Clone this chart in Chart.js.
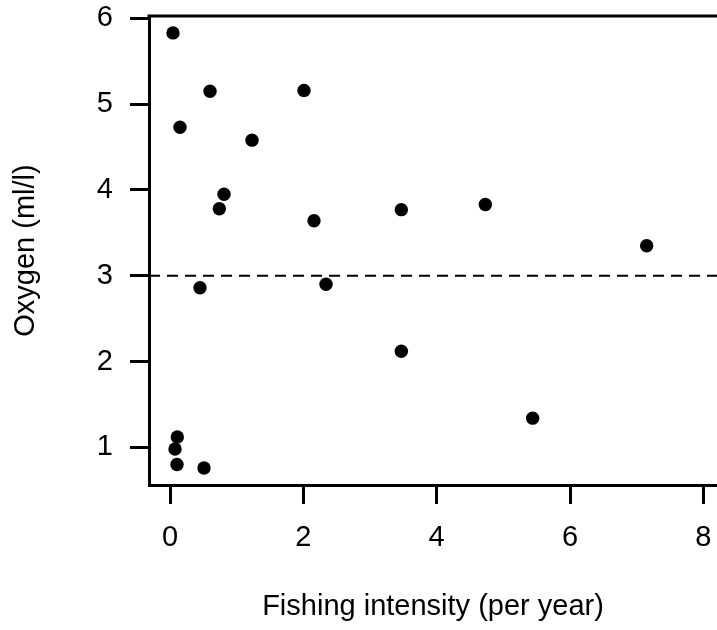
<!DOCTYPE html>
<html>
<head>
<meta charset="utf-8">
<script src="https://cdn.jsdelivr.net/npm/chart.js@4.4.0/dist/chart.umd.min.js"></script>
<style>
html,body{margin:0;padding:0;background:#fff;}
canvas{display:block;}
</style>
</head>
<body>
<canvas id="c" width="717" height="630"></canvas>
<script>
// Data
const fishing = [0.045, 0.60, 0.15, 2.01, 1.23, 0.81, 0.74, 2.16, 3.47, 4.73, 7.15, 0.45, 2.34, 3.47, 5.44, 0.11, 0.075, 0.105, 0.51];
const oxygen  = [5.83, 5.15, 4.73, 5.16, 4.58, 3.95, 3.78, 3.64, 3.77, 3.83, 3.35, 2.86, 2.90, 2.12, 1.34, 1.12, 0.98, 0.80, 0.76];
const xTicks = [0, 2, 4, 6, 8];
const yTicks = [1, 2, 3, 4, 5, 6];
const threshold = 3;
const xLimits = [-0.315, 8.205];
const yLimits = [0.561, 6.027];

const FONT = '"Liberation Sans", Arial, sans-serif';

const points = fishing.map((x, i) => ({x: x, y: oxygen[i]}));
const thresholdLine = [{x: xLimits[0], y: threshold}, {x: xLimits[1], y: threshold}];

const topBorder = {
  id: 'topBorder',
  afterDraw(chart) {
    const a = chart.chartArea, ctx = chart.ctx;
    ctx.save();
    ctx.strokeStyle = '#000';
    ctx.lineWidth = 3;
    ctx.beginPath();
    ctx.moveTo(a.left - 1.5, a.top);
    ctx.lineTo(a.right, a.top);
    ctx.stroke();
    ctx.restore();
  }
};

function noPad(s) { s.paddingTop = 0; s.paddingBottom = 0; s.paddingLeft = 0; s.paddingRight = 0; }

new Chart(document.getElementById('c'), {
  type: 'scatter',
  data: {
    datasets: [
      {
        data: points,
        backgroundColor: '#000',
        borderColor: '#000',
        borderWidth: 0,
        pointRadius: 6.7,
        pointHoverRadius: 6.7
      },
      {
        type: 'line',
        data: thresholdLine,
        borderColor: '#000',
        borderWidth: 2,
        borderDash: [11, 7],
        pointRadius: 0,
        fill: false
      }
    ]
  },
  options: {
    responsive: false,
    animation: false,
    devicePixelRatio: 1,
    layout: {autoPadding: false, padding: {top: 16, right: 0, left: 0, bottom: 0}},
    plugins: {legend: {display: false}, tooltip: {enabled: false}},
    scales: {
      x: {
        type: 'linear',
        min: xLimits[0],
        max: xLimits[1],
        afterBuildTicks: s => { s.ticks = xTicks.map(v => ({value: v})); },
        afterFit: s => { s.height = 145; noPad(s); },
        grid: {drawOnChartArea: false, drawTicks: true, tickLength: 19, tickWidth: 3, tickColor: '#000'},
        border: {display: true, width: 3, color: '#000'},
        ticks: {color: '#000', padding: 17, font: {family: FONT, size: 29}, maxRotation: 0, autoSkip: false},
        title: {display: true, text: 'Fishing intensity (per year)', color: '#000', font: {family: FONT, size: 29}, padding: {top: 0, bottom: 6}}
      },
      y: {
        type: 'linear',
        min: yLimits[0],
        max: yLimits[1],
        afterBuildTicks: s => { s.ticks = yTicks.map(v => ({value: v})); },
        afterFit: s => { s.width = 149; noPad(s); },
        grid: {drawOnChartArea: false, drawTicks: true, tickLength: 19, tickWidth: 3, tickColor: '#000'},
        border: {display: true, width: 3, color: '#000'},
        ticks: {color: '#000', padding: 17, font: {family: FONT, size: 29}, autoSkip: false},
        title: {display: true, text: 'Oxygen (ml/l)', color: '#000', font: {family: FONT, size: 29}, padding: {top: 9, bottom: 0}}
      }
    }
  },
  plugins: [topBorder]
});
</script>
</body>
</html>
